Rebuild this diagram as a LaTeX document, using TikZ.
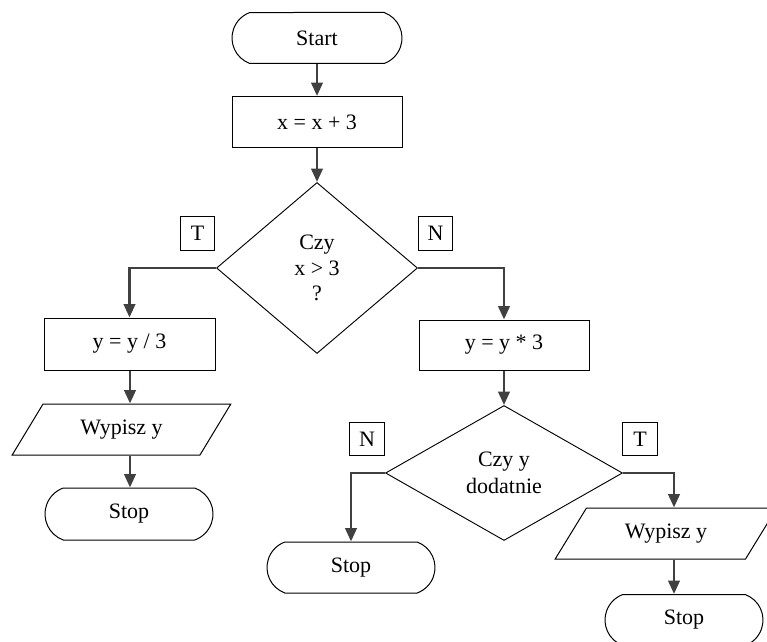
\documentclass[tikz,border=0pt]{standalone}
\usepackage{fontspec}
\setmainfont{Liberation Serif}
\usetikzlibrary{shapes.misc,shapes.geometric,arrows.meta}
\begin{document}
\begin{tikzpicture}[x=0.75pt,y=-0.75pt,
  font=\fontsize{16.5}{19}\selectfont,
  term/.style={draw, line width=0.75pt, rounded rectangle, rounded rectangle arc length=140, inner sep=0pt},
  proc/.style={draw, line width=0.75pt, rectangle, inner sep=0pt},
  dec/.style={draw, line width=0.7pt, diamond, inner sep=0pt, align=center},
  io/.style={draw, line width=0.75pt, trapezium, trapezium left angle=50, trapezium right angle=130, trapezium stretches=true, inner sep=0pt},
  lab/.style={draw, line width=0.7pt, rectangle, minimum width=26pt, minimum height=25pt, inner sep=0pt},
  arr/.style={draw=black!75, line width=2pt, -{Triangle[length=10pt,width=8.5pt]}}
]
\useasboundingbox (0,0) rectangle (767,642);

\node[term, minimum width=127.5pt, minimum height=38.25pt] (start) at (317,38) {Start};
\node[proc, minimum width=127.5pt, minimum height=38.25pt] (b1) at (317,122) {x = x + 3};
\node[dec, minimum width=150.75pt, minimum height=128.25pt] (d1) at (317,268) {Czy\\x > 3\\?};
\node[lab] (t1) at (197.5,233.5) {T};
\node[lab] (n1) at (435.5,233.5) {N};

\node[proc, minimum width=128.25pt, minimum height=39pt] (bl) at (129.5,344) {y = y / 3};
\node[io, minimum width=164.25pt, minimum height=38.25pt] (pl) at (121.5,429.5) {Wypisz y};
\node[term, minimum width=126pt, minimum height=39pt] (sl) at (129,514) {Stop};

\node[proc, minimum width=127.5pt, minimum height=37.5pt] (br) at (504,345) {y = y * 3};
\node[dec, minimum width=177.75pt, minimum height=101.25pt, font=\fontsize{16.5}{20}\selectfont] (d2) at (504,473) {Czy y\\dodatnie};
\node[lab] (n2) at (367,439) {N};
\node[lab] (t2) at (640,439) {T};

\node[term, minimum width=126pt, minimum height=38.25pt] (sm) at (351,567.5) {Stop};
\node[io, minimum width=166.5pt, minimum height=38.25pt] (pr) at (666,533.5) {Wypisz y};
\node[term, minimum width=118.5pt, minimum height=38.25pt] (sr) at (684,620) {Stop};

\coordinate (cl) at (130,0);
\coordinate (cr) at (674,0);

\draw[arr] (start.south) -- (b1.north);
\draw[arr] (b1.south) -- (d1.north);
\draw[arr] (d1.west) -| (bl.north);
\draw[arr] (d1.east) -| (br.north);
\draw[arr] (cl |- bl.south) -- (cl |- pl.north);
\draw[arr] (cl |- pl.south) -- (cl |- sl.north);
\draw[arr] (br.south) -- (d2.north);
\draw[arr] (d2.west) -| (sm.north);
\draw[arr] (d2.east) -| (cr |- pr.north);
\draw[arr] (cr |- pr.south) -- (cr |- sr.north);
\end{tikzpicture}
\end{document}
